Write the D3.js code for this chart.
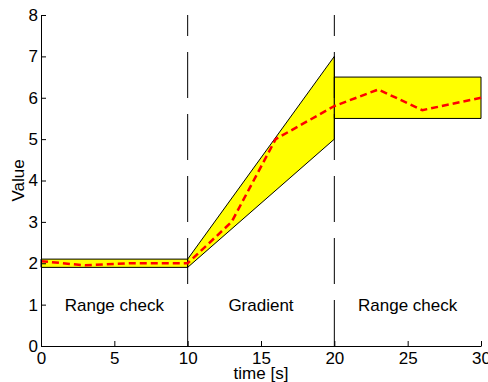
<!DOCTYPE html>
<html><head><meta charset="utf-8">
<script src="https://cdn.jsdelivr.net/npm/d3@7"></script>
<style>body{margin:0;background:#fff}svg{display:block}text{font-family:"Liberation Sans",Arial,sans-serif}</style>
</head><body><svg id="c" width="488" height="382"></svg>
<script>
const xTicks = [0,5,10,15,20,25,30];
const yTicks = [0,1,2,3,4,5,6,7,8];
const signalT = [0,3,6,10,13,16,20,23,26,30];
const signalV = [2.05,1.95,2.0,2.0,3.0,5.0,5.8,6.2,5.7,6.0];
const band1 = [[0,1.9],[10,1.9],[10,2.1],[0,2.1]];
const band2 = [[10,1.9],[20,5.0],[20,7.0],[10,2.1]];
const band3 = [[20,5.5],[30,5.5],[30,6.5],[20,6.5]];
const dividers = [10,20];
const labelX = [5,15,25];
const labelText = ["Range check","Gradient","Range check"];
const labelY = 1;

const m = {l:41, r:7, t:15, b:36};
const W = 488, H = 382;
const FS = 17;
const svg = d3.select("#c");
const x = d3.scaleLinear().domain([0,30]).range([m.l, W-m.r]);
const y = d3.scaleLinear().domain([0,8]).range([H-m.b, m.t]);

const line = d3.line().x(d=>x(d[0])).y(d=>y(d[1]));
[band1,band2,band3].forEach(b=>{
  svg.append("path").attr("d", line(b)+"Z").attr("fill","#ffff00").attr("stroke","#000").attr("stroke-width",1);
});

dividers.forEach(d=>{
  svg.append("line").attr("x1",x(d)).attr("x2",x(d)).attr("y1",y(0)).attr("y2",y(8))
    .attr("stroke","#000").attr("stroke-width",1).attr("stroke-dasharray","46,16");
});

svg.append("path").attr("d", line(signalT.map((t,i)=>[t,signalV[i]])))
  .attr("fill","none").attr("stroke","#ff0000").attr("stroke-width",2.5).attr("stroke-dasharray","7,4");

labelX.forEach((lx,i)=>{
  svg.append("text").attr("x",x(lx)).attr("y",y(labelY)).attr("dy","0.35em")
    .attr("text-anchor","middle").attr("font-size",FS).attr("fill","#000").text(labelText[i]);
});

const xa = svg.append("g").attr("transform",`translate(0,${y(0)})`)
  .call(d3.axisBottom(x).tickValues(xTicks).tickSizeInner(-5).tickSizeOuter(0).tickPadding(6));
const ya = svg.append("g").attr("transform",`translate(${x(0)},0)`)
  .call(d3.axisLeft(y).tickValues(yTicks).tickSizeInner(-5).tickSizeOuter(0).tickPadding(3));
[xa,ya].forEach(a=>{
  a.selectAll("text").attr("font-size",FS).attr("fill","#000").attr("font-family","Liberation Sans, Arial, sans-serif");
  a.selectAll("line,path").attr("stroke","#000");
});

svg.append("text").attr("x",x(15)).attr("y",379).attr("text-anchor","middle").attr("font-size",FS).text("time [s]");
svg.append("text").attr("transform",`translate(24,${y(4)}) rotate(-90)`).attr("text-anchor","middle").attr("font-size",FS).text("Value");
</script></body></html>
